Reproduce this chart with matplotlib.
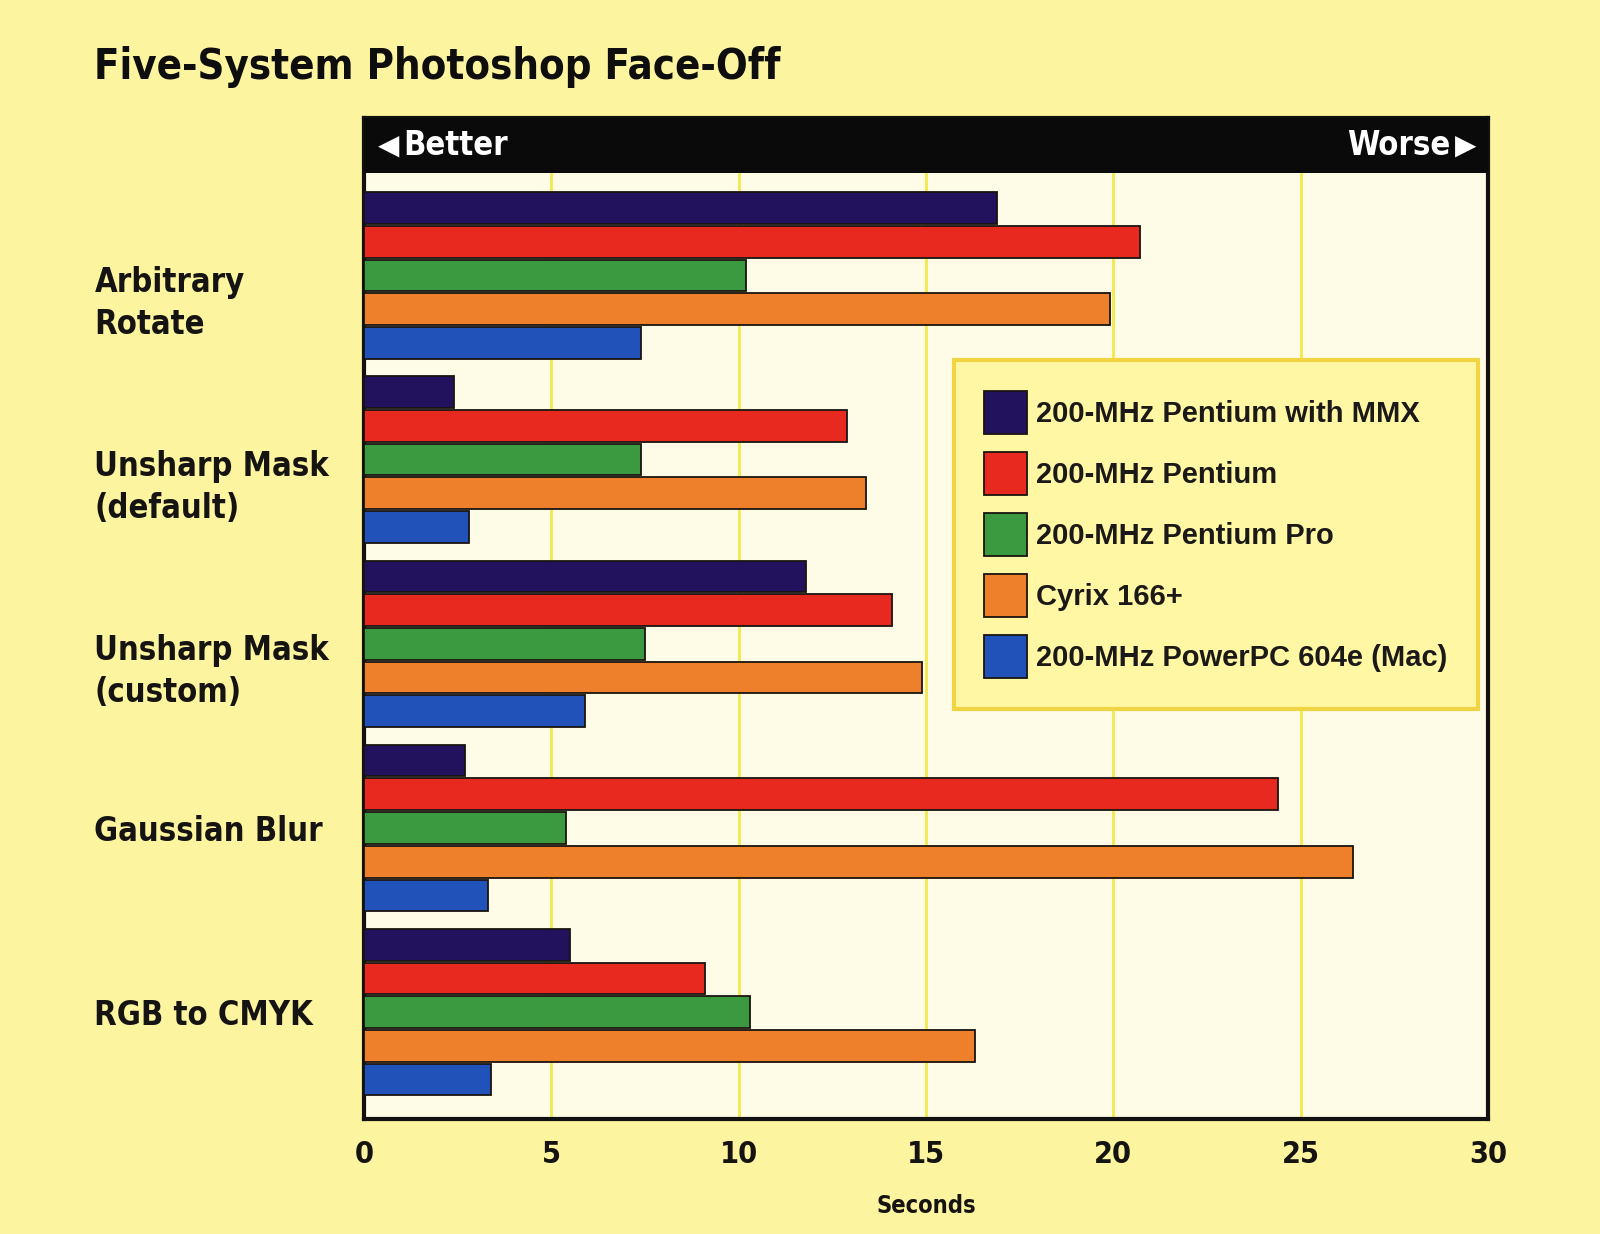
import matplotlib
matplotlib.use('Agg')
import matplotlib.pyplot as plt
import matplotlib.transforms as mtransforms
from matplotlib.patches import Rectangle
import numpy as np

# data (seconds, lower is better)
categories = ['Arbitrary\nRotate', 'Unsharp Mask\n(default)', 'Unsharp Mask\n(custom)', 'Gaussian Blur', 'RGB to CMYK']
systems = ['200-MHz Pentium with MMX', '200-MHz Pentium', '200-MHz Pentium Pro', 'Cyrix 166+', '200-MHz PowerPC 604e (Mac)']
mmx     = [16.9, 2.4, 11.8, 2.7, 5.5]
pentium = [20.7, 12.9, 14.1, 24.4, 9.1]
pro     = [10.2, 7.4, 7.5, 5.4, 10.3]
cyrix   = [19.9, 13.4, 14.9, 26.4, 16.3]
mac     = [7.4, 2.8, 5.9, 3.3, 3.4]
xticks = [0, 5, 10, 15, 20, 25, 30]
colors = ['#22125e', '#e8291f', '#3b9a3f', '#ef802b', '#2152b9']

narrow = ['DejaVu Sans']
wide = ['Liberation Sans', 'DejaVu Sans']
ink = '#161412'

fig = plt.figure(figsize=(16, 12.34), dpi=100, facecolor='#fcf49e')
ax = fig.add_axes([0.2275, 0.0932, 0.7025, 0.8112], facecolor='#fefce6')

series = [mmx, pentium, pro, cyrix, mac]
y = np.arange(len(categories))
pitch = 0.183
for j, (vals, c, lab) in enumerate(zip(series, colors, systems)):
    ax.barh(y + (j - 2) * pitch, vals, height=0.172, color=c, edgecolor='#1a1410',
            linewidth=1.3, label=lab, zorder=3)

ax.set_xlim(0, 30)
ax.set_ylim(4.58, -0.855)
ax.set_xticks(xticks)
ax.set_xticklabels([str(t) for t in xticks], fontsize=22, fontweight='bold',
                   family=narrow, fontstretch='condensed', color=ink)
ax.set_yticks([])
ax.tick_params(axis='x', length=0, pad=15)
ax.grid(axis='x', color='#f2ea4c', linewidth=2, zorder=0)
ax.set_axisbelow(True)
for s in ax.spines.values():
    s.set_linewidth(3)
    s.set_color('#111111')
ax.set_xlabel('Seconds', fontsize=17, fontweight='bold', family=narrow,
              fontstretch='condensed', color=ink, labelpad=18)

# black header band with Better / Worse
ax.add_patch(Rectangle((0, 0.945), 1, 0.055, transform=ax.transAxes,
                       facecolor='#0a0a0a', edgecolor='none', zorder=5))
ax.text(0.0125, 0.972, '\u25c0', transform=ax.transAxes, color='white', fontsize=20,
        va='center', ha='left', family='DejaVu Sans', zorder=6)
ax.text(0.035, 0.972, 'Better', transform=ax.transAxes, color='white', fontsize=23.5,
        fontweight='bold', va='center', ha='left', family=narrow, fontstretch='condensed', zorder=6)
ax.text(0.9893, 0.972, '\u25b6', transform=ax.transAxes, color='white', fontsize=20,
        va='center', ha='right', family='DejaVu Sans', zorder=6)
ax.text(0.9665, 0.972, 'Worse', transform=ax.transAxes, color='white', fontsize=23.5,
        fontweight='bold', va='center', ha='right', family=narrow, fontstretch='condensed', zorder=6)

# category labels in the left margin
trans = mtransforms.blended_transform_factory(fig.transFigure, ax.transData)
for yi, lab in zip(y, categories):
    off = 0.15 if '\n' in lab else 0.02
    ax.text(0.059, yi + off, lab, transform=trans, fontsize=23.5, fontweight='bold',
            family=narrow, fontstretch='condensed', color=ink, va='center', ha='left',
            linespacing=1.35)

leg = ax.legend(loc='upper left', bbox_to_anchor=(0.5245, 0.758), borderaxespad=0,
                prop={'family': wide, 'weight': 'bold', 'size': 21},
                handlelength=1.47, handleheight=1.89, handletextpad=0.3,
                labelspacing=0.62, borderpad=1.05, fancybox=False, framealpha=1,
                facecolor='#fff7a4', edgecolor='#f0d444')
leg.get_frame().set_linewidth(3)
leg.set_zorder(7)
for t in leg.get_texts():
    t.set_color('#1c1a18')

fig.text(0.059, 0.936, 'Five-System Photoshop Face-Off', fontsize=30, fontweight='bold',
         family=narrow, fontstretch='condensed', color='#0e0e0e', va='baseline', ha='left')

fig.savefig('out.png', dpi=100, facecolor=fig.get_facecolor())
